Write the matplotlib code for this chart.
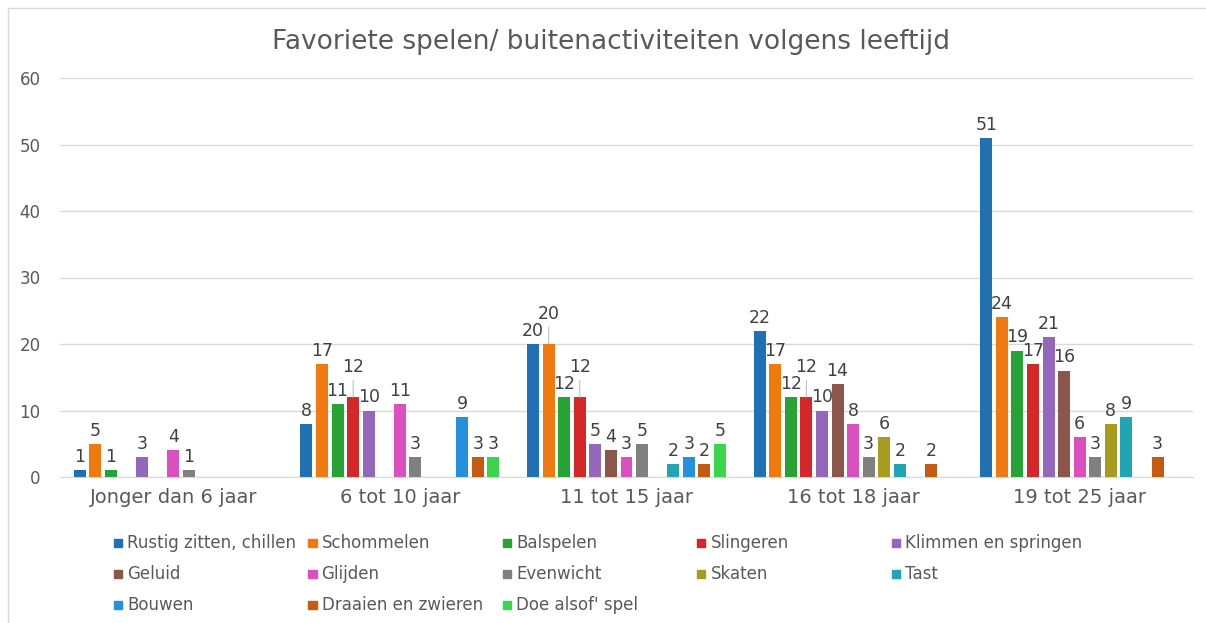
import numpy as np
import matplotlib
matplotlib.use("Agg")
import matplotlib.pyplot as plt
from matplotlib.patches import Rectangle
from matplotlib.lines import Line2D

# Leeftijdsgroepen en activiteiten
groepen = ["Jonger dan 6 jaar", "6 tot 10 jaar", "11 tot 15 jaar", "16 tot 18 jaar", "19 tot 25 jaar"]
activiteiten = ["Rustig zitten, chillen", "Schommelen", "Balspelen", "Slingeren",
                "Klimmen en springen", "Geluid", "Glijden", "Evenwicht", "Skaten",
                "Tast", "Bouwen", "Draaien en zwieren", "Doe alsof' spel"]

# aantallen per activiteit, per leeftijdsgroep (0 = geen staaf)
rustig = [1, 8, 20, 22, 51]
schommelen = [5, 17, 20, 17, 24]
balspelen = [1, 11, 12, 12, 19]
slingeren = [0, 12, 12, 12, 17]
klimmen = [3, 10, 5, 10, 21]
geluid = [0, 0, 4, 14, 16]
glijden = [4, 11, 3, 8, 6]
evenwicht = [1, 3, 5, 3, 3]
skaten = [0, 0, 0, 6, 8]
tast = [0, 0, 2, 2, 9]
bouwen = [0, 9, 3, 0, 0]
draaien = [0, 3, 2, 2, 3]
doe_alsof = [0, 3, 5, 0, 0]

waarden = [rustig, schommelen, balspelen, slingeren, klimmen, geluid, glijden,
           evenwicht, skaten, tast, bouwen, draaien, doe_alsof]

kleuren = ["#2070b4", "#f07a10", "#27a336", "#d62728", "#9467bd", "#8c564b",
           "#dc4fc0", "#808080", "#a89b1f", "#21a5b5", "#2590dc", "#c55a11", "#3ad44f"]

W, H = 1206, 623
fig = plt.figure(figsize=(W / 100, H / 100), dpi=100)
ax = fig.add_axes([60 / W, 1 - 477 / H, (1193 - 60) / W, (477 - 78) / H])

n = len(activiteiten)
pitch = 15.6 / 227
breedte = 12 / 227
x = np.arange(len(groepen)) + 0.5

for i, (vals, kleur) in enumerate(zip(waarden, kleuren)):
    xs = x + (i - (n - 1) / 2) * pitch
    ax.bar(xs, vals, width=breedte, color=kleur, zorder=3)
    for j, v in enumerate(vals):
        if v == 0:
            continue
        vorige = waarden[i - 1][j] if i > 0 else 0
        omhoog = v >= 10 and vorige > 0 and abs(v - vorige) <= 1
        if omhoog:
            ax.annotate(str(v), (xs[j], v), xytext=(0, 15), textcoords="offset points",
                        ha="center", va="bottom", fontsize=12.5, color="#404040",
                        arrowprops=dict(arrowstyle="-", color="#bfbfbf", lw=0.8,
                                        shrinkA=1, shrinkB=0))
        else:
            ax.annotate(str(v), (xs[j], v), xytext=(0, 3), textcoords="offset points",
                        ha="center", va="bottom", fontsize=12.5, color="#404040")

ax.set_xlim(0, len(groepen))
ax.set_ylim(0, 60)
ax.set_yticks(range(0, 61, 10))
ax.set_xticks(x)
ax.set_xticklabels(groepen, fontsize=14, color="#595959")
ax.tick_params(axis="y", labelsize=12, labelcolor="#595959", length=0, pad=14)
ax.tick_params(axis="x", length=0, pad=8)
ax.grid(axis="y", color="#d9d9d9", lw=1, zorder=0)
for s in ["top", "right", "left"]:
    ax.spines[s].set_visible(False)
ax.spines["bottom"].set_color("#d9d9d9")

fig.text(611 / W, 1 - 42 / H, "Favoriete spelen/ buitenactiviteiten volgens leeftijd",
         ha="center", va="center", fontsize=19, color="#595959")

# legenda in rijen van 5
for i, (naam, kleur) in enumerate(zip(activiteiten, kleuren)):
    rij, kol = divmod(i, 5)
    lx = 118 + kol * 194.5
    ly = 543 + rij * 31
    fig.patches.append(Rectangle(((lx - 4) / W, 1 - (ly + 4) / H), 8 / W, 8 / H,
                                 transform=fig.transFigure, color=kleur))
    fig.text((lx + 9) / W, 1 - ly / H, naam, ha="left", va="center",
             fontsize=12, color="#595959")

# rand van de grafiek
fig.add_artist(Line2D([8 / W, 1], [1 - 8 / H, 1 - 8 / H], color="#d9d9d9", lw=1))
fig.add_artist(Line2D([8 / W, 8 / W], [0, 1 - 8 / H], color="#d9d9d9", lw=1))

fig.savefig("out.png", dpi=100)
